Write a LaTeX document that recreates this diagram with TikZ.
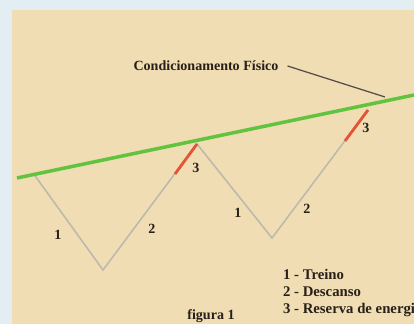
\documentclass[tikz,border=0pt]{standalone}
\usepackage{fontspec}
\setmainfont{Liberation Serif}
\usetikzlibrary{positioning}

\definecolor{fundo}{RGB}{226,238,242}
\definecolor{papel}{RGB}{240,221,180}
\definecolor{verde}{RGB}{98,196,62}
\definecolor{vermelho}{RGB}{226,84,52}
\definecolor{cinza}{RGB}{190,184,174}
\definecolor{tinta}{RGB}{40,32,24}

\begin{document}
\begin{tikzpicture}[x=0.02cm, y=-0.02cm,
  rotulo/.style={font=\fontsize{8}{9.5}\selectfont\bfseries, text=tinta, inner sep=1pt},
  legenda/.style={rotulo, anchor=west, font=\fontsize{8.4}{10}\selectfont\bfseries}]
  \useasboundingbox (0,0) rectangle (414,324);
  % Fundo e papel
  \fill[fundo] (0,0) rectangle (414,324);
  \fill[papel] (12,10) rectangle (414,324);
  
  % Pontos do ziguezague
  \coordinate (p0) at (33,173);
  \coordinate (v1) at (103,270);
  \coordinate (p1) at (197,144);
  \coordinate (v2) at (272,238);
  \coordinate (p2) at (368,110);
  \coordinate (r1) at (175,174);
  \coordinate (r2) at (345,141);
  
  % Treino e descanso (cinza)
  \draw[cinza, line width=0.9pt] (p0) -- (v1) -- (p1) -- (v2) -- (p2);
  
  % Reserva de energia (vermelho)
  \draw[vermelho, line width=1.6pt] (r1) -- (p1);
  \draw[vermelho, line width=1.6pt] (r2) -- (p2);
  
  % Condicionamento fisico (verde)
  \coordinate (g0) at (17,178);
  \coordinate (g1) at (414,95);
  \draw[verde, line width=2pt] (g0) -- (g1);
  
  % Numeros
  \node[rotulo] (n1a) at (58,235) {1};
  \node[rotulo] (n2a) at (152,229) {2};
  \node[rotulo] (n3a) at (196,168) {3};
  \node[rotulo] (n1b) at (238,213) {1};
  \node[rotulo] (n2b) at (307,209) {2};
  \node[rotulo] (n3b) at (366,128) {3};
  
  % Titulo e seta
  \node[rotulo] (cond) at (206,66) {Condicionamento Físico};
  \coordinate (alvo) at (385,97);
  \draw[tinta!80, line width=0.7pt] ([xshift=4pt]cond.east) -- (alvo);
  
  % Legenda
  \node[legenda] (l1) at (281,274) {1 - Treino};
  \node[legenda] (l2) at (281,292) {2 - Descanso};
  \node[legenda] (l3) at (281,310) {3 - Reserva de energia};
  \node[rotulo] (fig) at (211,316) {figura 1};
\end{tikzpicture}
\end{document}
